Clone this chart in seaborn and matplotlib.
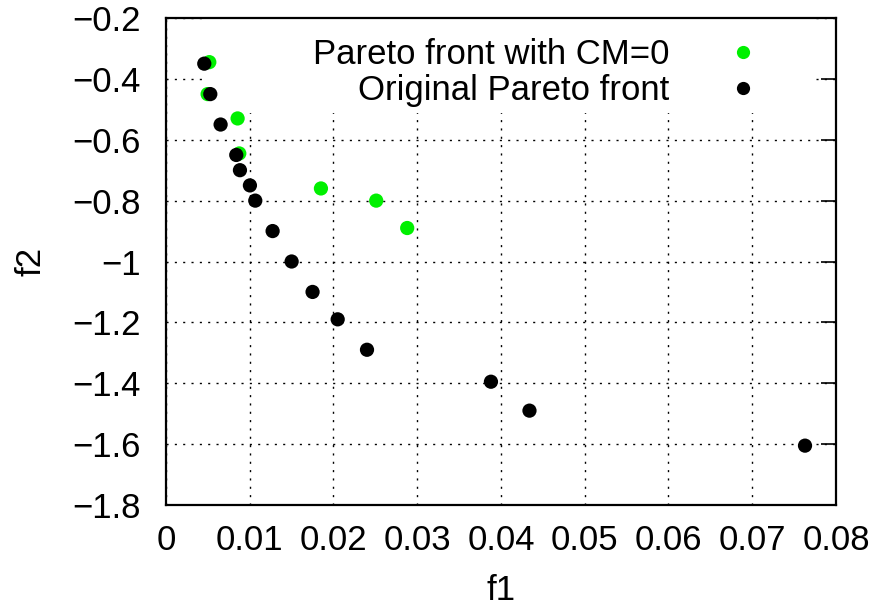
import matplotlib
matplotlib.use("Agg")
import matplotlib.pyplot as plt
from matplotlib.patches import Rectangle
from matplotlib.lines import Line2D
import seaborn as sns
import pandas as pd

# ---- data ----
cm0_f1 = [0.00517, 0.00497, 0.00855, 0.00875, 0.0185, 0.0251, 0.0288]
cm0_f2 = [-0.345, -0.45, -0.53, -0.645, -0.76, -0.80, -0.89]

orig_f1 = [0.00457, 0.00529, 0.00652, 0.00839, 0.00883, 0.01002, 0.01066,
           0.01273, 0.0150, 0.0175, 0.0205, 0.0240, 0.0388, 0.0434, 0.0763]
orig_f2 = [-0.35, -0.45, -0.55, -0.65, -0.70, -0.75, -0.80,
           -0.90, -1.00, -1.10, -1.19, -1.29, -1.395, -1.49, -1.605]

series_names = ["Pareto front with CM=0", "Original Pareto front"]
series_colors = ["#00f000", "#000000"]

x_ticks = [0, 0.01, 0.02, 0.03, 0.04, 0.05, 0.06, 0.07, 0.08]
x_tick_labels = ["0", "0.01", "0.02", "0.03", "0.04", "0.05", "0.06", "0.07", "0.08"]
y_ticks = [-0.2, -0.4, -0.6, -0.8, -1.0, -1.2, -1.4, -1.6, -1.8]
y_tick_labels = ["\u22120.2", "\u22120.4", "\u22120.6", "\u22120.8", "\u22121",
                 "\u22121.2", "\u22121.4", "\u22121.6", "\u22121.8"]

df_cm0 = pd.DataFrame({"f1": cm0_f1, "f2": cm0_f2})
df_orig = pd.DataFrame({"f1": orig_f1, "f2": orig_f2})

sns.set_theme(style="white")
plt.rcParams["font.family"] = ["Liberation Sans", "DejaVu Sans"]
plt.rcParams["text.color"] = "black"
plt.rcParams["axes.labelcolor"] = "black"
FS = 25

fig = plt.figure(figsize=(8.78, 6.12), dpi=100)
ax = fig.add_axes([166 / 878, 107 / 612, 670 / 878, 487 / 612])

ax.set_axisbelow(True)
ax.grid(True, color="black", linestyle=(0, (1.5, 4.5)), linewidth=1.0)

# opaque key box (covers grid, below points)
ax.add_patch(Rectangle((0.061, 0.805), 0.908, 0.195, transform=ax.transAxes,
                       facecolor="white", edgecolor="none", zorder=1))

sns.scatterplot(data=df_cm0, x="f1", y="f2", ax=ax, color=series_colors[0],
                s=105, edgecolor="none", zorder=3, legend=False)
sns.scatterplot(data=df_orig, x="f1", y="f2", ax=ax, color=series_colors[1],
                s=105, edgecolor="none", zorder=4, legend=False)

ax.set_xlim(0, 0.08)
ax.set_ylim(-1.8, -0.2)
ax.set_xticks(x_ticks)
ax.set_xticklabels(x_tick_labels)
ax.set_yticks(y_ticks)
ax.set_yticklabels(y_tick_labels)
ax.tick_params(axis="both", direction="in", length=11, width=1.2, labelsize=FS,
               top=True, right=True, colors="black", labelcolor="black")
ax.tick_params(axis="y", pad=18)
ax.tick_params(axis="x", pad=14)

for sp in ax.spines.values():
    sp.set_linewidth(1.6)
    sp.set_color("black")
    sp.set_zorder(6)

ax.set_xlabel("f1", fontsize=FS, labelpad=12, color="black")
ax.set_ylabel("f2", fontsize=FS, labelpad=18, color="black")

handles = [Line2D([], [], linestyle="none", marker="o", markersize=9.5,
                  markerfacecolor=c, markeredgecolor="none") for c in series_colors]
leg = ax.legend(handles, series_names, loc="upper right",
                bbox_to_anchor=((760 - 166) / 670, (505 - 38) / 487),
                borderaxespad=0, borderpad=0, frameon=False, markerfirst=False,
                handlelength=1.0, handletextpad=1.62, labelspacing=0.09,
                fontsize=FS, labelcolor="black")
leg.set_zorder(7)

fig.savefig("out.png", dpi=100)
